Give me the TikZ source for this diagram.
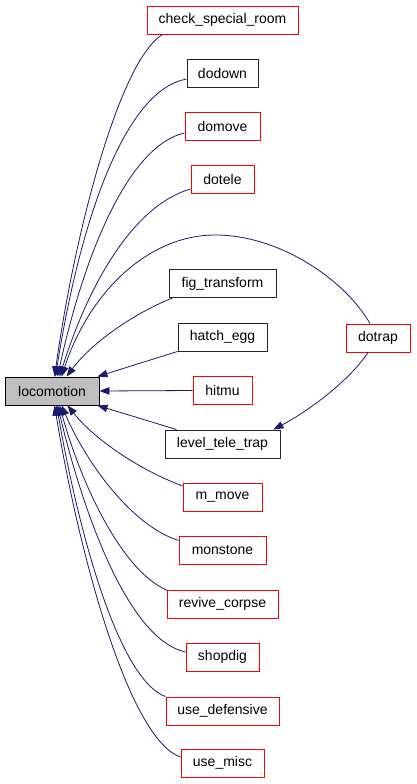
\documentclass[tikz,border=0pt]{standalone}
\usepackage{fontspec}
\setmainfont{Liberation Sans}
\usetikzlibrary{arrows.meta,calc}
\definecolor{edgeblue}{HTML}{191970}
\definecolor{locogray}{HTML}{BFBFBF}
\tikzset{
  fn/.style={draw=red, line width=0.9pt, minimum height=28pt, inner xsep=0pt, inner ysep=0pt, font=\fontsize{14}{17}\selectfont},
  fnb/.style={fn, draw=black!85},
  rootnode/.style={fn, draw=black, fill=locogray},
  edge/.style={draw=edgeblue, line width=0.8pt, -{Triangle[length=10pt,width=7.5pt]}},
}
\begin{document}
\begin{tikzpicture}[x=1pt,y=-1pt]
\useasboundingbox (0,0) rectangle (416,784);
% nodes
\node[rootnode, minimum width=94pt] (loco) at (52,391) {locomotion};
\node[fn,  minimum width=151pt] (csr) at (222.5,20) {check\_special\_room};
\node[fnb, minimum width=71pt]  (dodown) at (222.5,73) {dodown};
\node[fn,  minimum width=75pt]  (domove) at (222.5,126) {domove};
\node[fn,  minimum width=63pt]  (dotele) at (222.5,179.5) {dotele};
\node[fnb, minimum width=107pt] (fig) at (222.5,283.5) {fig\_transform};
\node[fnb, minimum width=89pt]  (hatch) at (222.5,337) {hatch\_egg};
\node[fn,  minimum width=59pt]  (hitmu) at (222.5,390.5) {hitmu};
\node[fnb, minimum width=115pt] (ltt) at (222.5,444) {level\_tele\_trap};
\node[fn,  minimum width=64pt]  (dotrap) at (378,338) {dotrap};
\node[fn,  minimum width=79pt]  (mmove) at (222.5,497) {m\_move};
\node[fn,  minimum width=87pt]  (monstone) at (222.5,550.5) {monstone};
\node[fn,  minimum width=111pt] (revive) at (222.5,604) {revive\_corpse};
\node[fn,  minimum width=73pt]  (shopdig) at (222.5,657) {shopdig};
\node[fn,  minimum width=113pt] (usedef) at (222.5,711) {use\_defensive};
\node[fn,  minimum width=83pt]  (usemisc) at (222.5,763) {use\_misc};
% edges into locomotion (top)
\draw[edge] ($(csr.south west)+(16,0)$) .. controls (120,60) and (75,230) .. ($(loco.north west)+(50,0)$);
\draw[edge] ($(dodown.west)+(0,6)$) .. controls (125,90) and (80,220) .. ($(loco.north west)+(51,0)$);
\draw[edge] ($(domove.west)+(0,7)$) .. controls (130,145) and (85,250) .. ($(loco.north west)+(53,0)$);
\draw[edge] ($(dotele.south west)+(0,-5)$) .. controls (135,205) and (90,280) .. ($(loco.north west)+(55,0)$);
\draw[edge] ($(dotrap.north)+(-8,0)$) .. controls (345,280) and (280,235) .. (215,235) .. controls (150,235) and (90,290) .. ($(loco.north west)+(57,0)$);
\draw[edge] ($(fig.south west)+(4,0)$) .. controls (130,315) and (90,345) .. ($(loco.north west)+(62,0)$);
\draw[edge] (hatch.south west) -- ($(loco.north east)+(-2,0)$);
\draw[edge] (hitmu.west) -- (loco.east);
\draw[edge] ($(ltt.north west)+(12,0)$) -- ($(loco.south east)+(-2,0)$);
% dotrap -> level_tele_trap
\draw[edge] ($(dotrap.south)+(-10,0)$) .. controls (350,380) and (310,410) .. ($(ltt.north east)+(-7,0)$);
% edges into locomotion (bottom)
\draw[edge] ($(mmove.west)+(0,-11)$) .. controls (140,470) and (95,440) .. ($(loco.south west)+(63,0)$);
\draw[edge] ($(monstone.west)+(0,-10)$) .. controls (130,525) and (85,460) .. ($(loco.south west)+(57,0)$);
\draw[edge] ($(revive.north west)+(1,1)$) .. controls (120,570) and (80,480) .. ($(loco.south west)+(55,0)$);
\draw[edge] ($(shopdig.west)+(0,-5)$) .. controls (130,640) and (85,520) .. ($(loco.south west)+(53,0)$);
\draw[edge] (usedef.north west) .. controls (120,680) and (80,540) .. ($(loco.south west)+(52,0)$);
\draw[edge] ($(usemisc.west)+(0,-6)$) .. controls (130,740) and (80,560) .. ($(loco.south west)+(50,0)$);
\end{tikzpicture}
\end{document}
